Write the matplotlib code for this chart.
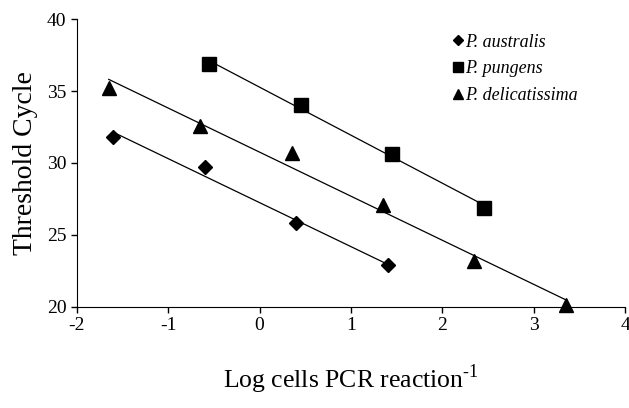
import numpy as np
import matplotlib
matplotlib.use('Agg')
import matplotlib.pyplot as plt

# data
x_aus = [-1.6, -0.6, 0.4, 1.4]
y_aus = [31.8, 29.7, 25.8, 22.9]
x_pun = [-0.55, 0.45, 1.45, 2.45]
y_pun = [36.9, 34.0, 30.6, 26.9]
x_del = [-1.65, -0.65, 0.35, 1.35, 2.35, 3.35]
y_del = [35.2, 32.6, 30.7, 27.1, 23.2, 20.1]

plt.rcParams['font.family'] = ['Liberation Serif', 'DejaVu Serif']
plt.rcParams['axes.unicode_minus'] = False
plt.rcParams['mathtext.fontset'] = 'custom'
plt.rcParams['mathtext.rm'] = 'Liberation Serif'

fig = plt.figure(figsize=(6.29, 4.08), dpi=100)
ax = fig.add_axes([0.122, 0.248, 0.872, 0.705])

series = [
    (x_aus, y_aus, 'D', 7, 'P. australis'),
    (x_pun, y_pun, 's', 10, 'P. pungens'),
    (x_del, y_del, '^', 10, 'P. delicatissima'),
]
for xs, ys, mk, ms, lab in series:
    xs = np.array(xs)
    ys = np.array(ys)
    # linear trendline over the range of each series
    m, b = np.polyfit(xs, ys, 1)
    xl = np.array([xs.min(), xs.max()])
    ax.plot(xl, m * xl + b, color='black', lw=0.9, zorder=2)
    ax.plot(xs, ys, linestyle='none', marker=mk, ms=ms, color='black',
            label=lab, zorder=3, clip_on=False)

ax.set_xlim(-2, 4)
ax.set_ylim(20, 40)
ax.set_xticks(range(-2, 5))
ax.set_yticks(range(20, 41, 5))
ax.spines['top'].set_visible(False)
ax.spines['right'].set_visible(False)
ax.tick_params(direction='out', length=4, width=1, labelsize=14)
ax.set_ylabel('Threshold Cycle', fontsize=20, labelpad=6)
ax.set_xlabel(r'Log cells PCR reaction$^{\text{-1}}$', fontsize=18.5, labelpad=20)

leg = ax.legend(loc='upper left', bbox_to_anchor=(0.685, 0.95), frameon=False,
                borderpad=0, borderaxespad=0, markerscale=0.75,
                handlelength=0.6, handletextpad=0.1, labelspacing=0.55,
                prop={'style': 'italic', 'size': 13})

fig.savefig('out.png', dpi=100)
